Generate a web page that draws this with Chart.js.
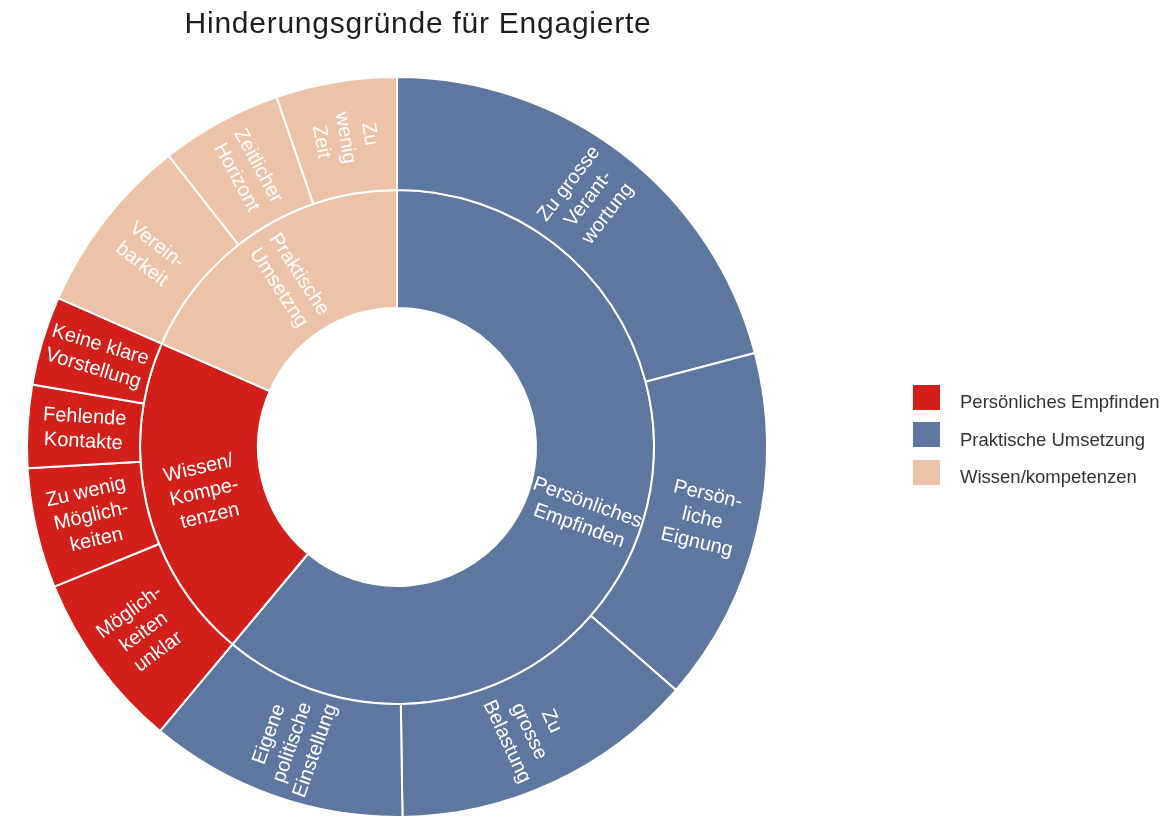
<!DOCTYPE html>
<html>
<head>
<meta charset="utf-8">
<script src="https://cdn.jsdelivr.net/npm/chart.js@4"></script>
<style>
  html, body { margin:0; padding:0; background:#fff; overflow:hidden; width:1169px; height:817px; }
  #wrap { position:relative; width:1169px; height:817px; }
  #c { position:absolute; left:0; top:0; }
  #title { position:absolute; left:0; top:8px; width:836px; text-align:center; font-family:"Liberation Sans", Arial, sans-serif; font-size:30px; line-height:30px; letter-spacing:0.75px; color:#1e1e1e; white-space:nowrap; }
  .sw { position:absolute; left:913px; width:27px; height:25px; }
  .lt { position:absolute; left:960px; font-family:"Liberation Sans", Arial, sans-serif; font-size:18.5px; line-height:18.5px; color:#333; white-space:nowrap; }
</style>
</head>
<body>
<div id="wrap">
  <canvas id="c" width="1169" height="817"></canvas>
  <div id="title">Hinderungsgründe für Engagierte</div>
</div>
<script>
// ---- data ----
const titleText = 'Hinderungsgründe für Engagierte';
const groupColors = ['#5e77a0', '#d21f1a', '#ecc3a9'];

const innerLabels = [
  ['Persönliches', 'Empfinden'],
  ['Wissen/', 'Kompe-', 'tenzen'],
  ['Praktische', 'Umsetzng']
];
const innerValues = [219.9, 73.9, 66.3];

const outerLabels = [
  ['Zu grosse', 'Verant-', 'wortung'],
  ['Persön-', 'liche', 'Eignung'],
  ['Zu', 'grosse', 'Belastung'],
  ['Eigene', 'politische', 'Einstellung'],
  ['Möglich-', 'keiten', 'unklar'],
  ['Zu wenig', 'Möglich-', 'keiten'],
  ['Fehlende', 'Kontakte'],
  ['Keine klare', 'Vorstellung'],
  ['Verein-', 'barkeit'],
  ['Zeitlicher', 'Horizont'],
  ['Zu', 'wenig', 'Zeit']
];
const outerValues = [75.3, 55.8, 48.1, 40.7, 28.0, 18.9, 13.0, 14.0, 28.2, 19.1, 19.0];
const outerGroup = [0, 0, 0, 0, 1, 1, 1, 1, 2, 2, 2];

const legendLabels = ['Persönliches Empfinden', 'Praktische Umsetzung', 'Wissen/kompetenzen'];
const legendColors = ['#d21f1a', '#5e77a0', '#ecc3a9'];

// ---- legend (HTML) ----
const wrap = document.getElementById('wrap');
const swTops = [385, 422, 460];
const txtTops = [393, 430.5, 468];
legendLabels.forEach((t, i) => {
  const s = document.createElement('div');
  s.className = 'sw'; s.style.top = swTops[i] + 'px'; s.style.background = legendColors[i];
  wrap.appendChild(s);
  const l = document.createElement('div');
  l.className = 'lt'; l.style.top = txtTops[i] + 'px'; l.textContent = t;
  wrap.appendChild(l);
});

// ---- arc labels plugin ----
const arcLabels = {
  id: 'arcLabels',
  afterDatasetsDraw(chart) {
    const ctx = chart.ctx;
    chart.data.datasets.forEach((ds, di) => {
      const meta = chart.getDatasetMeta(di);
      meta.data.forEach((arc, i) => {
        const p = arc.getProps(['x', 'y', 'startAngle', 'endAngle', 'innerRadius', 'outerRadius'], true);
        const mid = (p.startAngle + p.endAngle) / 2;
        const r = (p.innerRadius + p.outerRadius) / 2;
        const cx = p.x + r * Math.cos(mid);
        const cy = p.y + r * Math.sin(mid);
        let rot = mid;
        if (Math.cos(mid) < 0) rot += Math.PI;
        const lines = ds.labelLines[i];
        ctx.save();
        ctx.translate(cx, cy);
        ctx.rotate(rot);
        ctx.font = '20px "Liberation Sans", Arial, sans-serif';
        ctx.fillStyle = '#ffffff';
        ctx.textAlign = 'center';
        ctx.textBaseline = 'middle';
        const lh = 24.5;
        lines.forEach((t, k) => ctx.fillText(t, 0, (k - (lines.length - 1) / 2) * lh));
        ctx.restore();
      });
    });
  }
};

new Chart(document.getElementById('c'), {
  type: 'doughnut',
  data: {
    labels: outerLabels.map(l => l.join(' ')),
    datasets: [
      {
        data: outerValues,
        backgroundColor: outerGroup.map(g => groupColors[g]),
        borderColor: '#ffffff',
        borderWidth: 2,
        weight: 113,
        labelLines: outerLabels
      },
      {
        data: innerValues,
        backgroundColor: groupColors,
        borderColor: '#ffffff',
        borderWidth: 2,
        weight: 118,
        labelLines: innerLabels
      }
    ]
  },
  options: {
    responsive: false,
    animation: false,
    events: [],
    radius: 370,
    cutout: '37.57%',
    layout: { padding: { left: 0, right: 375, top: 77, bottom: 0 } },
    plugins: {
      legend: { display: false },
      title: { display: false },
      tooltip: { enabled: false }
    }
  },
  plugins: [arcLabels]
});
</script>
</body>
</html>
